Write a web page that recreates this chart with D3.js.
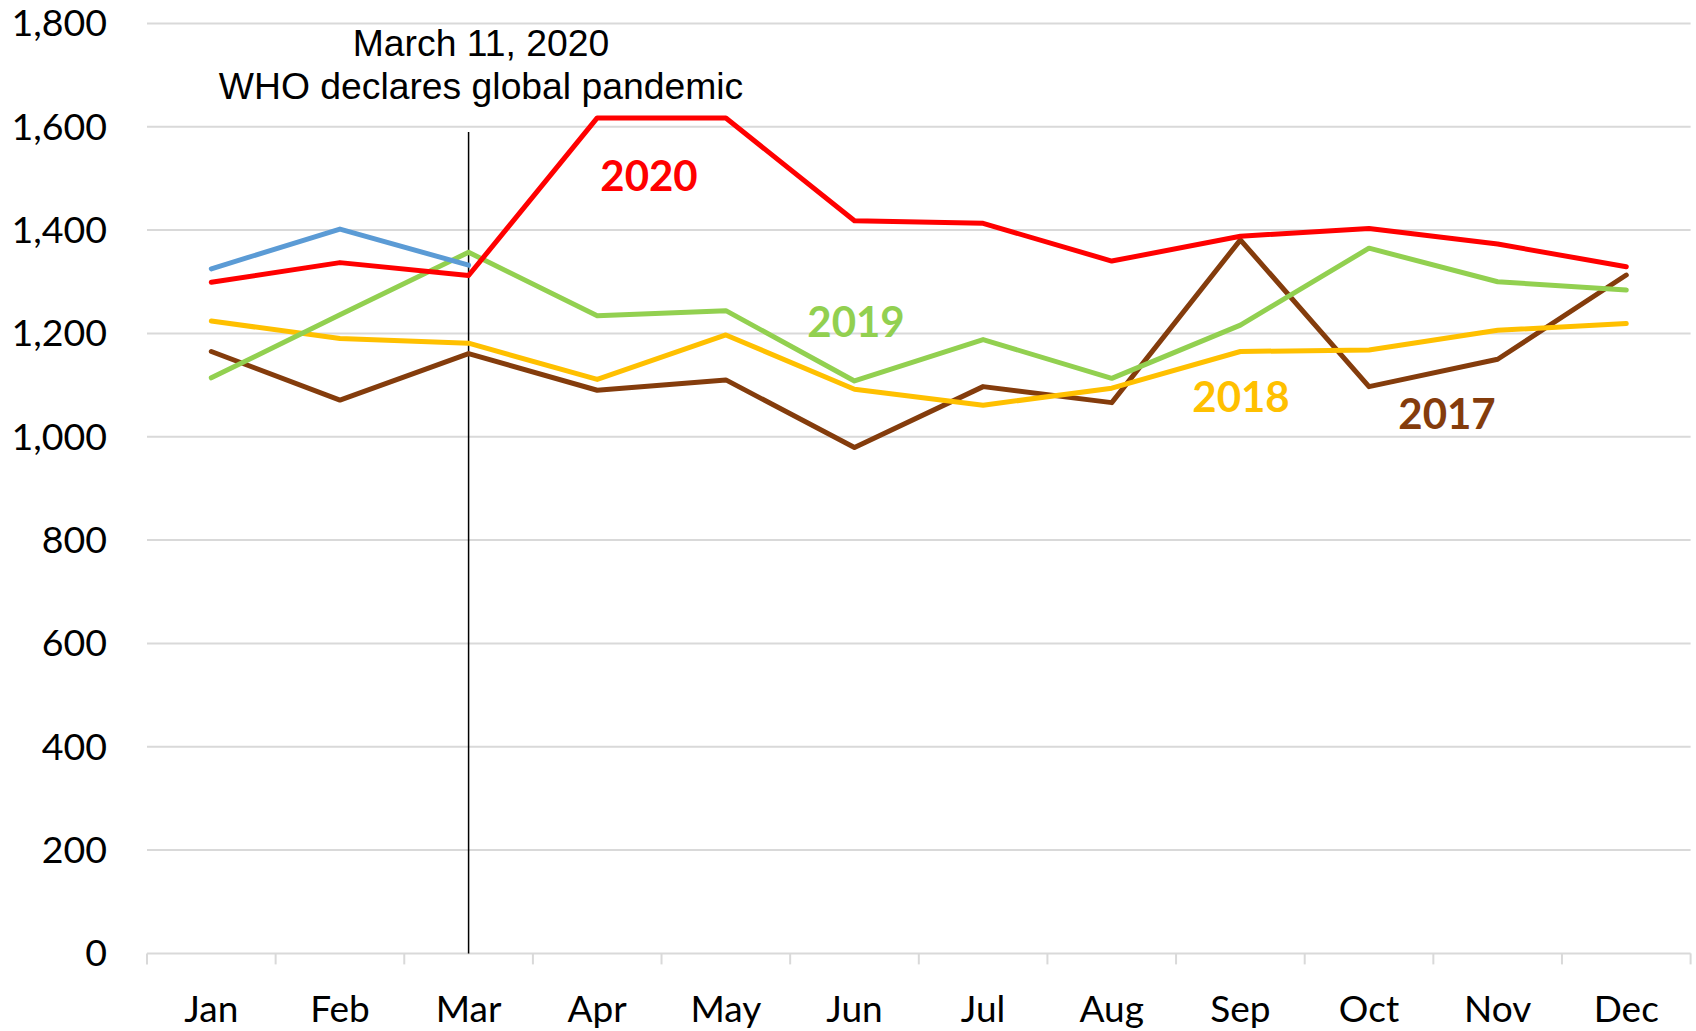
<!DOCTYPE html>
<html>
<head>
<meta charset="utf-8">
<script src="https://cdn.jsdelivr.net/npm/d3@7/dist/d3.min.js"></script>
<style>
  html, body { margin: 0; padding: 0; background: #fff; }
  svg { display: block; }
</style>
</head>
<body>
<svg id="chart" width="1696" height="1031"></svg>
<script>
const months = ["Jan","Feb","Mar","Apr","May","Jun","Jul","Aug","Sep","Oct","Nov","Dec"];
const yTicks = [0,200,400,600,800,1000,1200,1400,1600,1800];
const series2017 = [1165,1071,1161,1090,1110,979,1097,1066,1381,1097,1150,1313];
const series2018 = [1224,1190,1181,1111,1197,1092,1061,1094,1165,1168,1206,1219];
const series2019 = [1114,1236,1357,1234,1244,1108,1188,1113,1216,1365,1300,1284];
const series2020 = [1299,1337,1312,1617,1617,1418,1413,1340,1388,1403,1373,1329];
const series2021 = [1325,1402,1332];
const seriesNames = ["2017","2018","2019","2020","2021"];
const seriesColors = ["#843C0C","#FFC000","#92D050","#FF0000","#5B9BD5"];
const annotationLines = ["March 11, 2020","WHO declares global pandemic"];
const annotationMonth = "Mar";

(function () {
const svg = d3.select("#chart");
const pLeft = 147, pRight = 1690.6, pTop = 23.4, pBottom = 953.4;

const x = d3.scaleBand().domain(months).range([pLeft, pRight]).paddingInner(0).paddingOuter(0);
const y = d3.scaleLinear().domain([0, 1800]).range([pBottom, pTop]);
const cx = m => x(m) + x.bandwidth() / 2;

// gridlines
svg.append("g").selectAll("line").data(yTicks).join("line")
  .attr("x1", pLeft).attr("x2", pRight)
  .attr("y1", d => y(d)).attr("y2", d => y(d))
  .attr("stroke", "#D9D9D9").attr("stroke-width", 2);

// y labels
svg.append("g").selectAll("text").data(yTicks).join("text")
  .attr("x", 107).attr("y", d => y(d) + 13)
  .attr("text-anchor", "end")
  .attr("font-family", "Lato, 'Open Sans', sans-serif")
  .attr("font-size", 37.5)
  .attr("fill", "#000")
  .text(d => d3.format(",")(d));

// x axis ticks
const bounds = months.map(m => x(m)).concat([pRight]);
svg.append("g").selectAll("line").data(bounds).join("line")
  .attr("x1", d => d).attr("x2", d => d)
  .attr("y1", pBottom).attr("y2", pBottom + 11)
  .attr("stroke", "#D9D9D9").attr("stroke-width", 2);

// x labels
svg.append("g").selectAll("text").data(months).join("text")
  .attr("x", d => cx(d)).attr("y", 1022)
  .attr("text-anchor", "middle")
  .attr("font-family", "Lato, 'Open Sans', sans-serif")
  .attr("font-size", 37)
  .attr("fill", "#000")
  .text(d => d);

// vertical annotation line
svg.append("line")
  .attr("x1", cx(annotationMonth)).attr("x2", cx(annotationMonth))
  .attr("y1", 132).attr("y2", pBottom)
  .attr("stroke", "#000").attr("stroke-width", 1.5);

// annotation text
svg.append("g").selectAll("text").data(annotationLines).join("text")
  .attr("x", 481).attr("y", (d, i) => 56 + i * 43)
  .attr("text-anchor", "middle")
  .attr("font-family", "'Liberation Sans', Arial, sans-serif")
  .attr("font-size", 37.3)
  .attr("fill", "#000")
  .text(d => d);

// lines
const allSeries = [series2017, series2018, series2019, series2020, series2021];
const line = d3.line().x((d, i) => cx(months[i])).y(d => y(d));
svg.append("g").selectAll("path").data(allSeries).join("path")
  .attr("d", d => line(d))
  .attr("fill", "none")
  .attr("stroke", (d, i) => seriesColors[i])
  .attr("stroke-width", 5)
  .attr("stroke-linejoin", "round")
  .attr("stroke-linecap", "round");

// series labels
const labelPos = [
  { name: "2017", x: 1447, y: 429 },
  { name: "2018", x: 1241, y: 412 },
  { name: "2019", x: 856, y: 337 },
  { name: "2020", x: 649, y: 191 }
];
svg.append("g").selectAll("text").data(labelPos).join("text")
  .attr("x", d => d.x).attr("y", d => d.y)
  .attr("text-anchor", "middle")
  .attr("font-family", "Lato, 'Open Sans', sans-serif")
  .attr("font-weight", "bold")
  .attr("font-size", 42)
  .attr("fill", d => seriesColors[seriesNames.indexOf(d.name)])
  .text(d => d.name);
})();
</script>
</body>
</html>
